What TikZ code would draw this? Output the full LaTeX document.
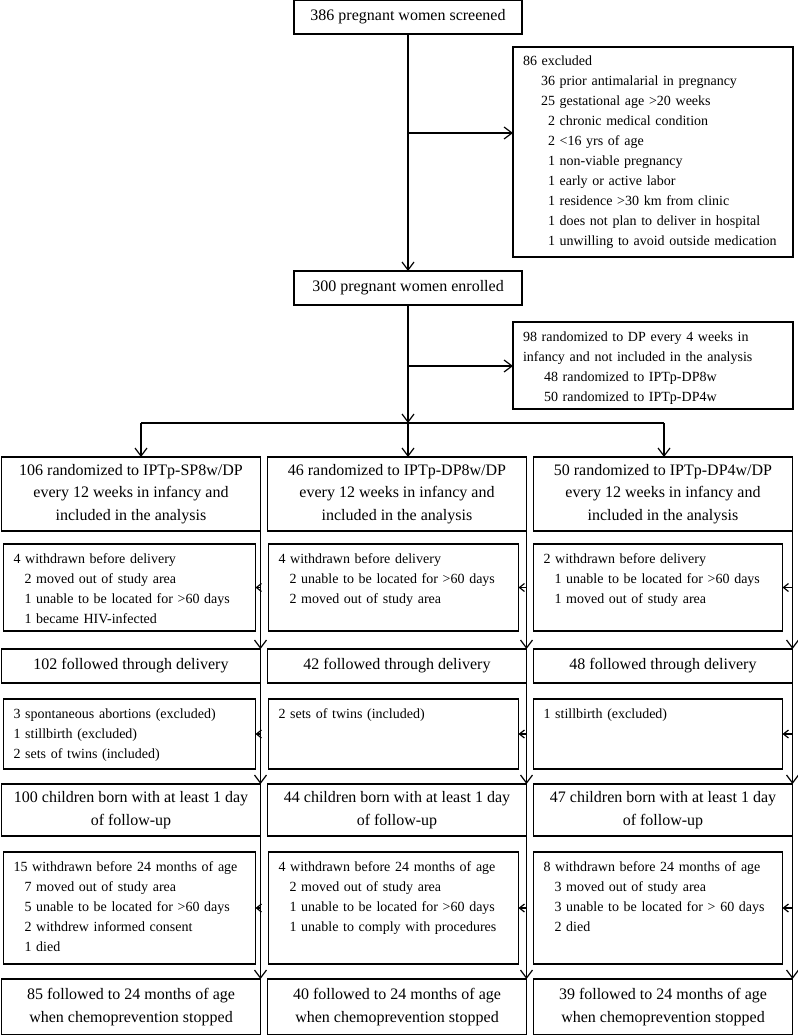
\documentclass[tikz,border=0pt]{standalone}
\usepackage{fontspec}
\setmainfont{Liberation Serif}
\usetikzlibrary{arrows.meta, positioning}

\begin{document}
\begin{tikzpicture}[
    node distance=13pt and 7pt,
    box/.style={
      rectangle, draw=black, line width=1.2pt, inner sep=0pt, outer sep=0pt,
      minimum width=259pt, align=center,
      font=\fontsize{16}{22.5}\selectfont
    },
    sidebox/.style={
      rectangle, draw=black, line width=1.2pt, anchor=north west, outer sep=0pt,
      inner xsep=10pt, inner ysep=9pt, text height=10pt,
      align=left, font=\fontsize{14}{20}\selectfont
    },
    arr/.style={-{Straight Barb[length=8pt, width=12pt]}, line width=1.2pt},
    sarr/.style={-{Straight Barb[length=5pt, width=8pt]}, line width=1.2pt}
  ]
  \useasboundingbox (0,0) rectangle (797pt,-1035pt);

  % Screening and enrolment
  \node[box, minimum width=228pt, minimum height=34pt] (screened) at (408pt,-17pt)
    {386 pregnant women screened};
  \node[box, minimum width=228pt, minimum height=34pt, below=237pt of screened]
    (enrolled) {300 pregnant women enrolled};
  \draw[arr] (screened) -- (enrolled);

  \node[sidebox, text width=260pt, text depth=182pt] (excluded)
    at ([xshift=-9pt, yshift=-13pt]screened.south east)
    {86 excluded\\
     \hspace*{18pt}36 prior antimalarial in pregnancy\\
     \hspace*{18pt}25 gestational age >20 weeks\\
     \hspace*{25pt}2 chronic medical condition\\
     \hspace*{25pt}2 <16 yrs of age\\
     \hspace*{25pt}1 non-viable pregnancy\\
     \hspace*{25pt}1 early or active labor\\
     \hspace*{25pt}1 residence >30 km from clinic\\
     \hspace*{25pt}1 does not plan to deliver in hospital\\
     \hspace*{25pt}1 unwilling to avoid outside medication};
  \coordinate[below=99pt of screened] (exsplit);
  \draw[arr] (exsplit) -- (exsplit -| excluded.west);

  \node[sidebox, text width=260pt, text depth=59pt] (infancy)
    at ([xshift=-9pt, yshift=-17pt]enrolled.south east)
    {98 randomized to DP every 4 weeks in\\
     infancy and not included in the analysis\\
     \hspace*{21pt}48 randomized to IPTp-DP8w\\
     \hspace*{21pt}50 randomized to IPTp-DP4w};
  \coordinate[below=61pt of enrolled] (rsplit);
  \draw[arr] (rsplit) -- (rsplit -| infancy.west);

  % Split into the three arms
  \coordinate[below=118pt of enrolled] (branch);
  \coordinate[left=267pt of branch] (brL);
  \coordinate[right=256pt of branch] (brR);
  \draw[arr] (enrolled) -- (branch);
  \draw[line width=1.2pt] (brL) -- (brR);

  % Row 1: randomized arms
  \node[box, minimum height=74pt, below=34pt of branch, xshift=-11pt] (dp8)
    {46 randomized to IPTp-DP8w/DP\\every 12 weeks in infancy and\\included in the analysis};
  \node[box, minimum height=74pt, left=of dp8] (sp)
    {106 randomized to IPTp-SP8w/DP\\every 12 weeks in infancy and\\included in the analysis};
  \node[box, minimum height=74pt, right=of dp8] (dp4)
    {50 randomized to IPTp-DP4w/DP\\every 12 weeks in infancy and\\included in the analysis};
  \draw[arr] (brL) -- (brL |- sp.north);
  \draw[arr] (branch) -- (branch |- dp8.north);
  \draw[arr] (brR) -- (brR |- dp4.north);

  % Row 2: withdrawn before delivery
  \node[sidebox, text width=232pt, text depth=59pt] (spwd)
    at ([xshift=2pt, yshift=-13pt]sp.south west)
    {4 withdrawn before delivery\\
     \hspace*{11pt}2 moved out of study area\\
     \hspace*{11pt}1 unable to be located for >60 days\\
     \hspace*{11pt}1 became HIV-infected};
  \node[sidebox, text width=230pt, text depth=59pt] (dp8wd)
    at ([xshift=1pt, yshift=-13pt]dp8.south west)
    {4 withdrawn before delivery\\
     \hspace*{11pt}2 unable to be located for >60 days\\
     \hspace*{11pt}2 moved out of study area};
  \node[sidebox, text width=229pt, text depth=59pt] (dp4wd)
    at ([yshift=-13pt]dp4.south west)
    {2 withdrawn before delivery\\
     \hspace*{11pt}1 unable to be located for >60 days\\
     \hspace*{11pt}1 moved out of study area};

  % Row 3: followed through delivery
  \node[box, minimum height=34pt, below=118pt of sp] (spdel) {102 followed through delivery};
  \node[box, minimum height=34pt, below=118pt of dp8] (dp8del) {42 followed through delivery};
  \node[box, minimum height=34pt, below=118pt of dp4] (dp4del) {48 followed through delivery};

  % Row 4: pregnancy outcomes
  \node[sidebox, text width=232pt, text depth=42pt] (spout)
    at ([xshift=2pt, yshift=-16pt]spdel.south west)
    {3 spontaneous abortions (excluded)\\
     1 stillbirth (excluded)\\
     2 sets of twins (included)};
  \node[sidebox, text width=230pt, text depth=42pt] (dp8out)
    at ([xshift=1pt, yshift=-16pt]dp8del.south west)
    {2 sets of twins (included)};
  \node[sidebox, text width=229pt, text depth=42pt] (dp4out)
    at ([yshift=-16pt]dp4del.south west)
    {1 stillbirth (excluded)};

  % Row 5: children born
  \node[box, minimum height=52pt, below=101pt of spdel] (spborn)
    {100 children born with at least 1 day\\of follow-up};
  \node[box, minimum height=52pt, below=101pt of dp8del] (dp8born)
    {44 children born with at least 1 day\\of follow-up};
  \node[box, minimum height=52pt, below=101pt of dp4del] (dp4born)
    {47 children born with at least 1 day\\of follow-up};

  % Row 6: withdrawn before 24 months
  \node[sidebox, text width=232pt, text depth=84pt] (spwd2)
    at ([xshift=2pt, yshift=-16pt]spborn.south west)
    {15 withdrawn before 24 months of age\\
     \hspace*{11pt}7 moved out of study area\\
     \hspace*{11pt}5 unable to be located for >60 days\\
     \hspace*{11pt}2 withdrew informed consent\\
     \hspace*{11pt}1 died};
  \node[sidebox, text width=230pt, text depth=84pt] (dp8wd2)
    at ([xshift=1pt, yshift=-16pt]dp8born.south west)
    {4 withdrawn before 24 months of age\\
     \hspace*{11pt}2 moved out of study area\\
     \hspace*{11pt}1 unable to be located for >60 days\\
     \hspace*{11pt}1 unable to comply with procedures};
  \node[sidebox, text width=229pt, text depth=84pt] (dp4wd2)
    at ([yshift=-16pt]dp4born.south west)
    {8 withdrawn before 24 months of age\\
     \hspace*{11pt}3 moved out of study area\\
     \hspace*{11pt}3 unable to be located for > 60 days\\
     \hspace*{11pt}2 died};

  % Row 7: end of follow-up
  \node[box, minimum height=56pt, below=143pt of spborn] (spend)
    {85 followed to 24 months of age\\when chemoprevention stopped};
  \node[box, minimum height=56pt, below=143pt of dp8born] (dp8end)
    {40 followed to 24 months of age\\when chemoprevention stopped};
  \node[box, minimum height=56pt, below=143pt of dp4born] (dp4end)
    {39 followed to 24 months of age\\when chemoprevention stopped};

  % Flow down the right edge of each arm, losses branch off to the left
  \draw[arr]  (sp.south east) -- (spdel.north east);
  \draw[sarr] (sp.south east |- spwd.east) -- (spwd.east);
  \draw[arr]  (spdel.south east) -- (spborn.north east);
  \draw[sarr] (spdel.south east |- spout.east) -- (spout.east);
  \draw[arr]  (spborn.south east) -- (spend.north east);
  \draw[sarr] (spborn.south east |- spwd2.east) -- (spwd2.east);

  \draw[arr]  (dp8.south east) -- (dp8del.north east);
  \draw[sarr] (dp8.south east |- dp8wd.east) -- (dp8wd.east);
  \draw[arr]  (dp8del.south east) -- (dp8born.north east);
  \draw[sarr] (dp8del.south east |- dp8out.east) -- (dp8out.east);
  \draw[arr]  (dp8born.south east) -- (dp8end.north east);
  \draw[sarr] (dp8born.south east |- dp8wd2.east) -- (dp8wd2.east);

  \draw[arr]  (dp4.south east) -- (dp4del.north east);
  \draw[sarr] (dp4.south east |- dp4wd.east) -- (dp4wd.east);
  \draw[arr]  (dp4del.south east) -- (dp4born.north east);
  \draw[sarr] (dp4del.south east |- dp4out.east) -- (dp4out.east);
  \draw[arr]  (dp4born.south east) -- (dp4end.north east);
  \draw[sarr] (dp4born.south east |- dp4wd2.east) -- (dp4wd2.east);

\end{tikzpicture}
\end{document}
